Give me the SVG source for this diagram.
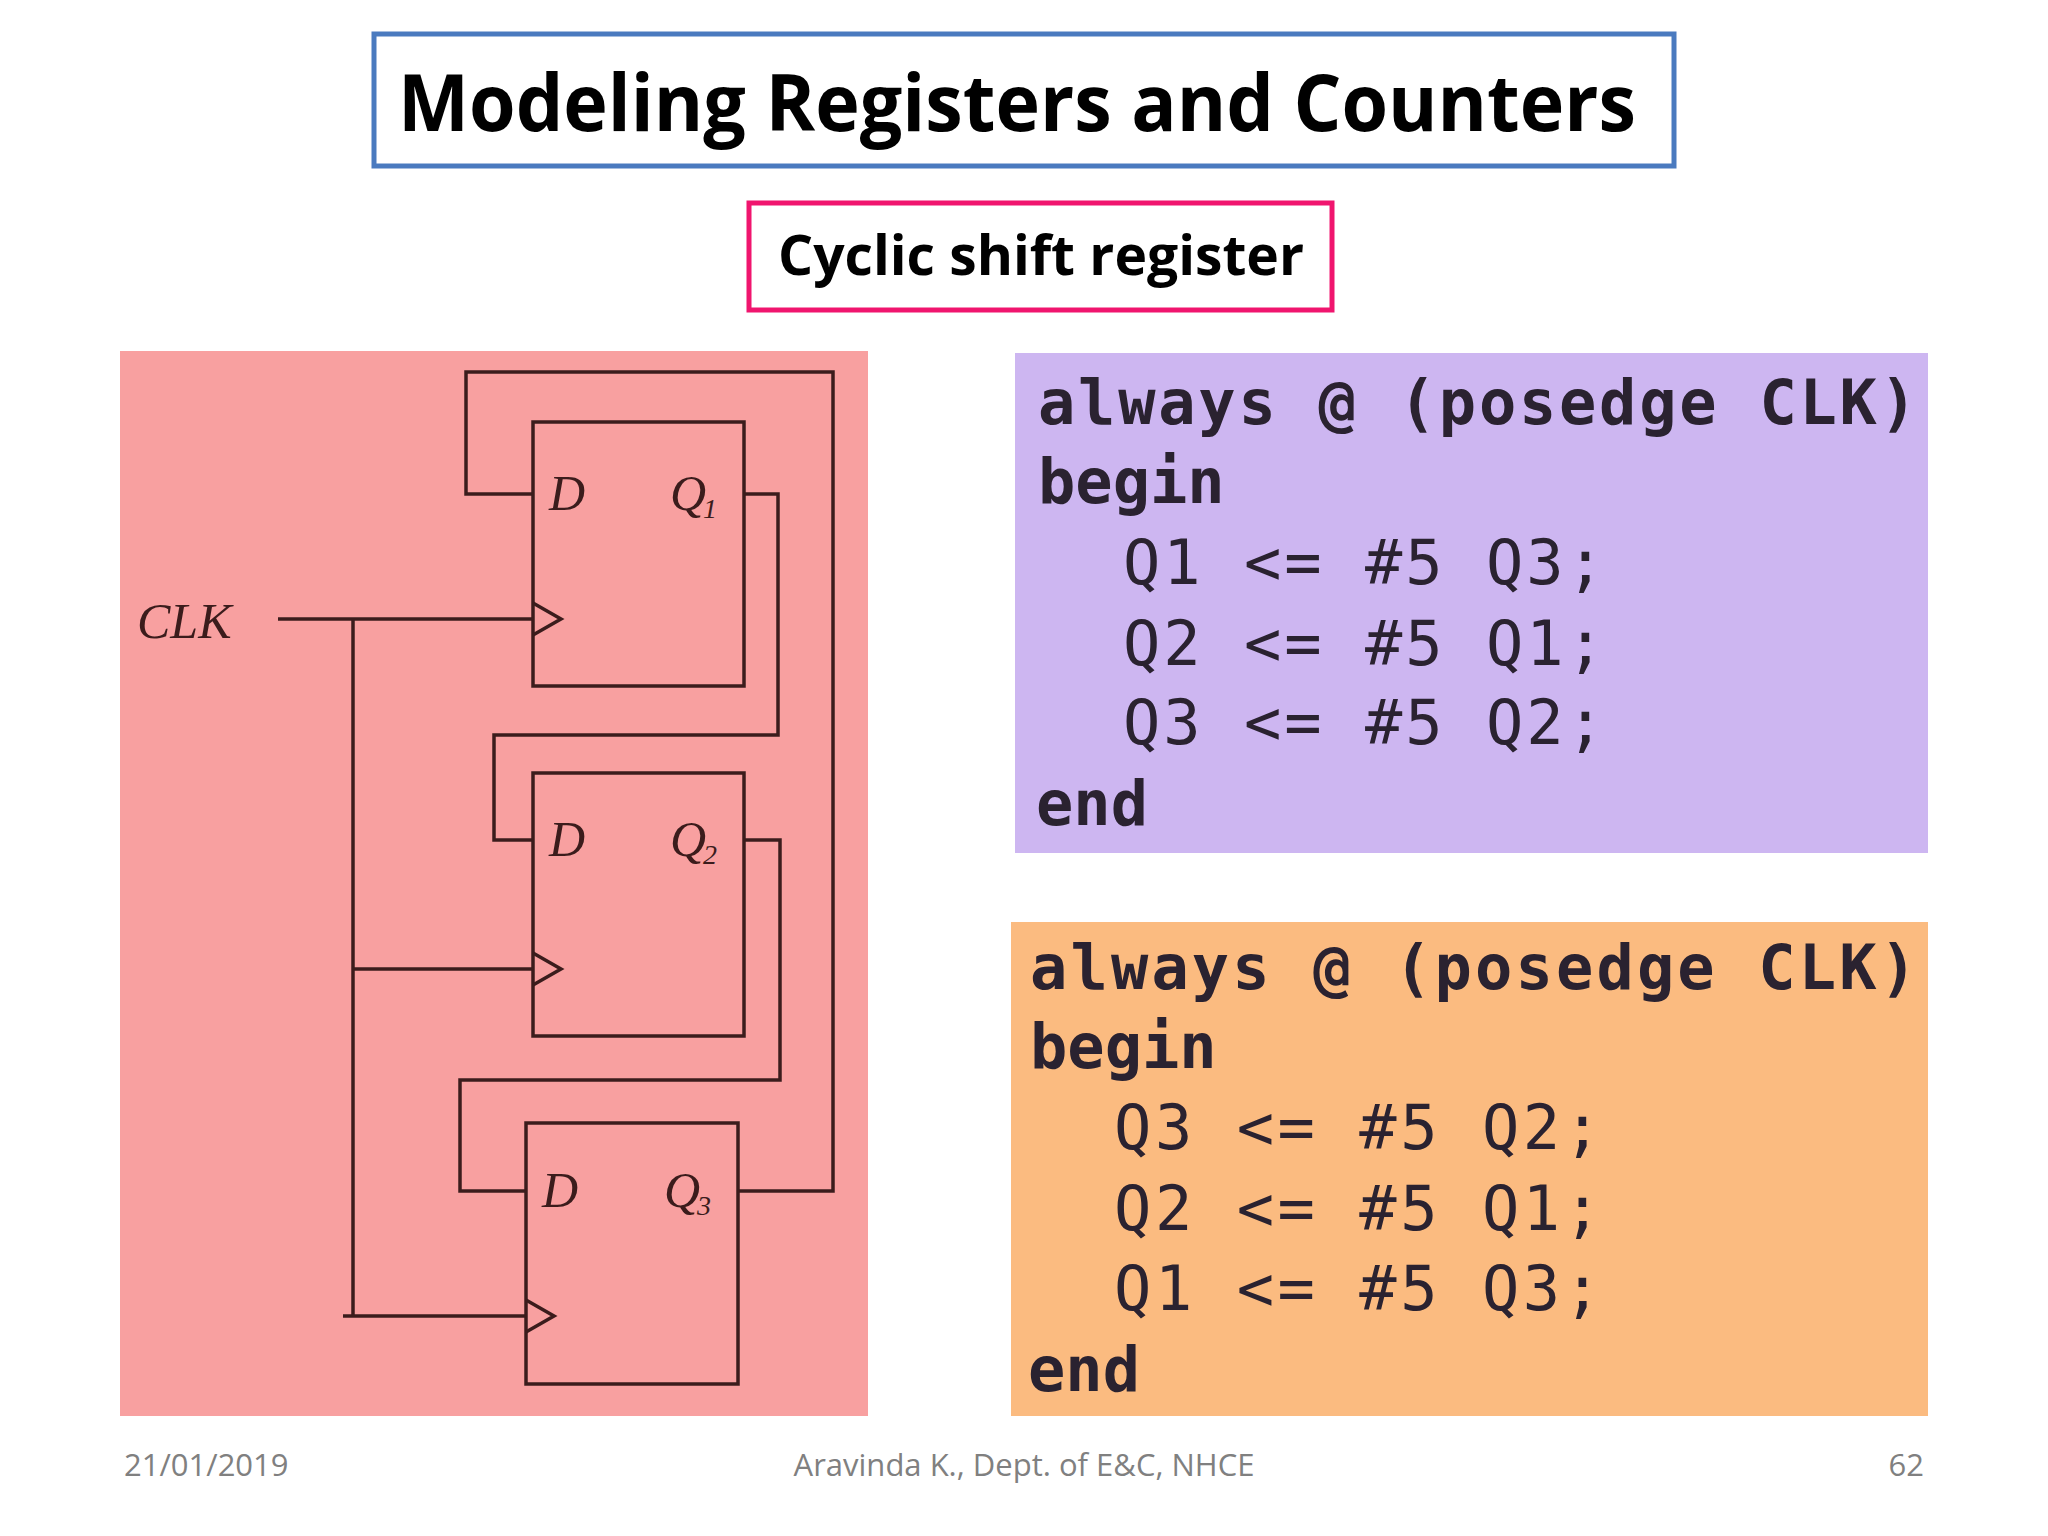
<svg xmlns="http://www.w3.org/2000/svg" width="2048" height="1536" viewBox="0 0 2048 1536">
<style>
.w{fill:none;stroke:#3b1c1c;stroke-width:3.5}
.lb{font-family:"Liberation Serif",serif;font-style:italic;font-size:50px;fill:#3b1c1c}
.sb{font-family:"Liberation Serif",serif;font-style:italic;font-size:28px;fill:#3b1c1c}
.cd{font-family:"DejaVu Sans Mono","Liberation Mono",monospace;font-size:62px;fill:#2a2230}
.bd{font-weight:bold}
.ft{font-family:"Open Sans","Liberation Sans",sans-serif;font-size:31px;fill:#808080}
</style>
<rect width="2048" height="1536" fill="#fff"/>
<g id="title">
<rect x="374" y="34" width="1300" height="132" fill="none" stroke="#4a7abf" stroke-width="5"/>
<text x="398" y="131" font-family="Open Sans, Liberation Sans, sans-serif" font-weight="bold" font-size="78" textLength="1238" lengthAdjust="spacingAndGlyphs">Modeling Registers and Counters</text>
</g>
<g id="subtitle">
<rect x="749" y="203" width="583" height="107" fill="none" stroke="#f0156e" stroke-width="5"/>
<text x="778" y="275" font-family="Open Sans, Liberation Sans, sans-serif" font-weight="bold" font-size="56" textLength="526" lengthAdjust="spacingAndGlyphs">Cyclic shift register</text>
</g>
<g id="circuit">
<rect x="120" y="351" width="748" height="1065" fill="#f8a0a0"/>
<g id="ff1"><rect class="w" x="533" y="422" width="211" height="264"/><path class="w" d="M533 603 L561 619 L533 635"/><text class="lb" x="549" y="510">D</text><text class="lb" x="670" y="510">Q</text><text class="sb" x="703" y="518">1</text></g>
<g id="ff2"><rect class="w" x="533" y="773" width="211" height="263"/><path class="w" d="M533 953 L561 969 L533 985"/><text class="lb" x="549" y="856">D</text><text class="lb" x="670" y="856">Q</text><text class="sb" x="703" y="864">2</text></g>
<g id="ff3"><rect class="w" x="526" y="1123" width="212" height="261"/><path class="w" d="M526 1300 L554 1316 L526 1332"/><text class="lb" x="542" y="1207">D</text><text class="lb" x="664" y="1207">Q</text><text class="sb" x="697" y="1215">3</text></g>
<text class="lb" x="137" y="638">CLK</text>
<g id="connectors">
<path class="w" d="M278 619 H533 M353 619 V1316 M353 969 H533 M343 1316 H526"/>
<path class="w" d="M738 1191 H833 V372 H466 V494 H533"/>
<path class="w" d="M744 494 H778 V735 H494 V840 H533"/>
<path class="w" d="M744 840 H780 V1080 H460 V1191 H526"/>
</g>
</g>
<g id="code1">
<rect x="1015" y="353" width="913" height="500" fill="#cdb6f1"/>
<text class="cd bd" x="1038" y="424" textLength="879">always @ (posedge CLK)</text>
<text class="cd bd" x="1038" y="503">begin</text>
<text class="cd" x="1123" y="584" textLength="481">Q1 &lt;= #5 Q3;</text>
<text class="cd" x="1123" y="665" textLength="481">Q2 &lt;= #5 Q1;</text>
<text class="cd" x="1123" y="744" textLength="481">Q3 &lt;= #5 Q2;</text>
<text class="cd bd" x="1036" y="825">end</text>
</g>
<g id="code2">
<rect x="1011" y="922" width="917" height="494" fill="#fbbb80"/>
<text class="cd bd" x="1030" y="989" textLength="887">always @ (posedge CLK)</text>
<text class="cd bd" x="1030" y="1068">begin</text>
<text class="cd" x="1114" y="1149" textLength="487">Q3 &lt;= #5 Q2;</text>
<text class="cd" x="1114" y="1230" textLength="487">Q2 &lt;= #5 Q1;</text>
<text class="cd" x="1114" y="1310" textLength="487">Q1 &lt;= #5 Q3;</text>
<text class="cd bd" x="1028" y="1391">end</text>
</g>
<g id="footer">
<text class="ft" x="124" y="1476">21/01/2019</text>
<text class="ft" x="1024" y="1476" text-anchor="middle">Aravinda K., Dept. of E&amp;C, NHCE</text>
<text class="ft" x="1924" y="1476" text-anchor="end">62</text>
</g>
</svg>
